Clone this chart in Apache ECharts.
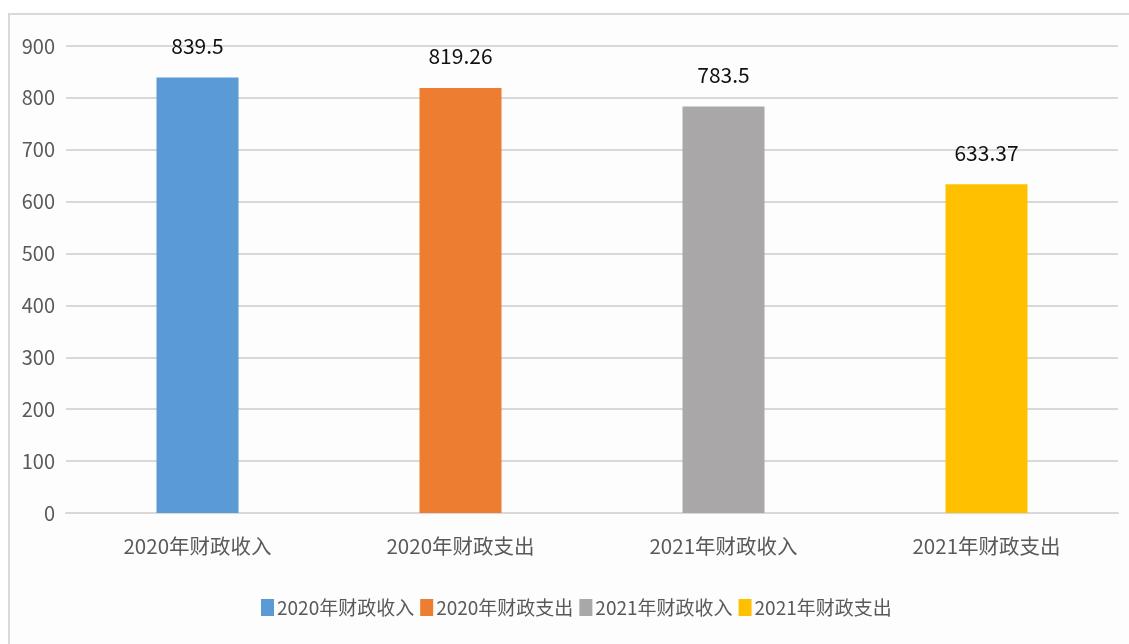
<!DOCTYPE html>
<html>
<head>
<meta charset="utf-8">
<script src="https://cdn.jsdelivr.net/npm/echarts@6/dist/echarts.min.js"></script>
<style>
  html, body { margin: 0; padding: 0; background: #fff; }
  .frame { position: absolute; left: 8px; top: 13px; width: 1200px; height: 700px;
           border-top: 2px solid #d9d9d9; border-left: 2px solid #d9d9d9; background: #fdfdfd; }
  #main { position: absolute; left: 0; top: 0; width: 1129px; height: 644px; }
</style>
</head>
<body>
<div class="frame"></div>
<div id="main"></div>
<script>
// 分类与数值
var categories = ['2020年财政收入', '2020年财政支出', '2021年财政收入', '2021年财政支出'];
var values = [839.5, 819.26, 783.5, 633.37];
var colors = ['#5b9bd5', '#ed7d31', '#a9a7a7', '#ffc000'];
var yTicks = [0, 100, 200, 300, 400, 500, 600, 700, 800, 900];

var numFont = '"Noto Sans CJK SC", sans-serif';

var chart = echarts.init(document.getElementById('main'));

// 每个分类一个系列, 以便图例显示四项
var series = categories.map(function(name, i) {
    var data = categories.map(function(c, j) { return j === i ? values[i] : '-'; });
    return {
        name: name,
        type: 'bar',
        stack: 'all',
        barWidth: 82,
        data: data,
        itemStyle: { color: colors[i] },
        label: {
            show: true,
            position: 'top',
            distance: 21,
            color: '#111',
            fontSize: 21,
            fontFamily: numFont
        }
    };
});

var option = {
    animation: false,
    grid: { left: 66, right: 11, top: 46, bottom: 131 },
    legend: {
        data: categories,
        bottom: 22,
        left: 256,
        itemWidth: 13,
        itemHeight: 17,
        itemGap: 6,
        icon: 'rect',
        textStyle: { color: '#595959', fontSize: 19, fontFamily: numFont, padding: [0, 0, 0, -2] }
    },
    xAxis: {
        type: 'category',
        data: categories,
        axisLine: { lineStyle: { color: '#d9d9d9', width: 2 } },
        axisTick: { show: false },
        axisLabel: { color: '#595959', fontSize: 20.5, fontFamily: numFont, margin: 23 }
    },
    yAxis: {
        type: 'value',
        min: yTicks[0],
        max: yTicks[yTicks.length - 1],
        interval: 100,
        axisLine: { show: false },
        axisTick: { show: false },
        splitLine: { lineStyle: { color: '#d9d9d9', width: 2 } },
        axisLabel: { color: '#595959', fontSize: 20, fontFamily: numFont, margin: 11 }
    },
    series: series
};

chart.setOption(option);
</script>
</body>
</html>
